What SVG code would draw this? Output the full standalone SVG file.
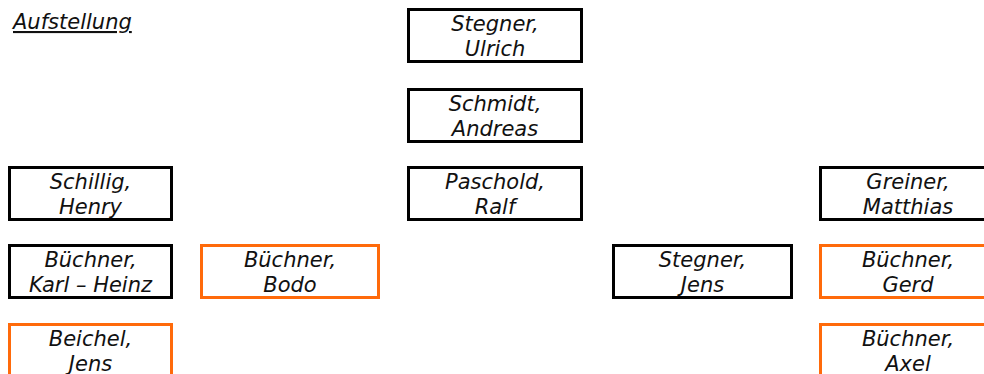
<svg xmlns="http://www.w3.org/2000/svg" width="984" height="374" viewBox="0 0 984 374">
<style>
text{font-family:"DejaVu Sans","Liberation Sans",sans-serif;font-style:italic;font-size:21px;fill:#111;text-anchor:middle}
.title{text-anchor:start;text-decoration:underline}
.b{fill:none;stroke:#000;stroke-width:3}
.o{fill:none;stroke:#ff6a0a;stroke-width:3}
</style>
<rect width="984" height="374" fill="#fff"/>
<text class="title" x="13" y="29">Aufstellung</text>
<g id="stegner-ulrich"><text x="495" y="30.5">Stegner,</text><text x="495" y="56">Ulrich</text><rect class="b" x="408.5" y="9.5" width="173" height="52"/></g>
<g id="schmidt-andreas"><text x="495" y="110.5">Schmidt,</text><text x="495" y="136">Andreas</text><rect class="b" x="408.5" y="89.5" width="173" height="52"/></g>
<g id="paschold-ralf"><text x="495" y="188.5">Paschold,</text><text x="495" y="214">Ralf</text><rect class="b" x="408.5" y="167.5" width="173" height="52"/></g>
<g id="schillig-henry"><text x="90.5" y="188.5">Schillig,</text><text x="90.5" y="214">Henry</text><rect class="b" x="9.5" y="167.5" width="162" height="52"/></g>
<g id="greiner-matthias"><text x="908" y="188.5">Greiner,</text><text x="908" y="214">Matthias</text><rect class="b" x="820.5" y="167.5" width="175" height="52"/></g>
<g id="buechner-karl-heinz"><text x="90.5" y="266.5">Büchner,</text><text x="90.5" y="292">Karl – Heinz</text><rect class="b" x="9.5" y="245.5" width="162" height="52"/></g>
<g id="buechner-bodo"><text x="290" y="266.5">Büchner,</text><text x="290" y="292">Bodo</text><rect class="o" x="201.5" y="245.5" width="177" height="52"/></g>
<g id="stegner-jens"><text x="702.5" y="266.5">Stegner,</text><text x="702.5" y="292">Jens</text><rect class="b" x="613.5" y="245.5" width="178" height="52"/></g>
<g id="buechner-gerd"><text x="908" y="266.5">Büchner,</text><text x="908" y="292">Gerd</text><rect class="o" x="820.5" y="245.5" width="175" height="52"/></g>
<g id="beichel-jens"><text x="90.5" y="345.5">Beichel,</text><text x="90.5" y="371">Jens</text><rect class="o" x="9.5" y="324.5" width="162" height="52"/></g>
<g id="buechner-axel"><text x="908" y="345.5">Büchner,</text><text x="908" y="371">Axel</text><rect class="o" x="820.5" y="324.5" width="175" height="52"/></g>
<g id="connectors"></g>
</svg>
